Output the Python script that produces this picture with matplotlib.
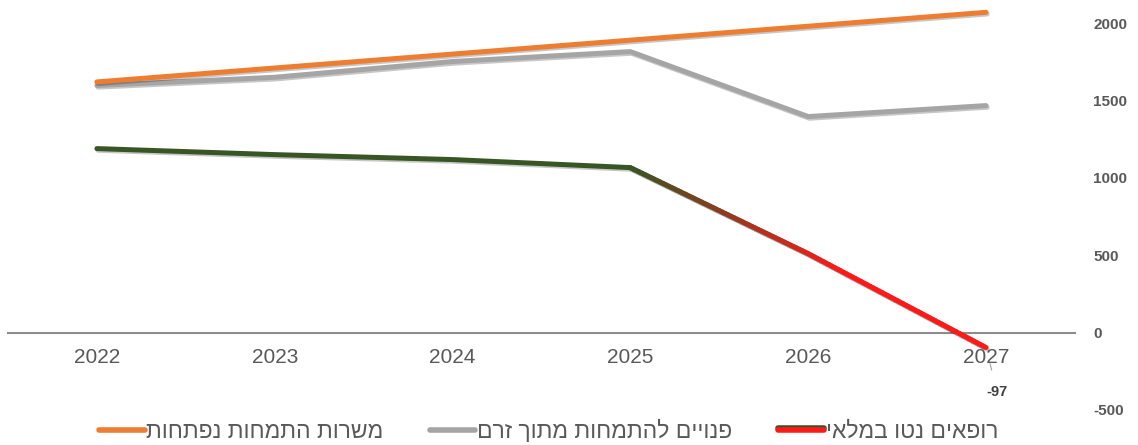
import numpy as np
import matplotlib.pyplot as plt
import matplotlib.patheffects as pe
from matplotlib.collections import LineCollection
from matplotlib.colors import to_rgb
from matplotlib.lines import Line2D

plt.rcParams['font.family'] = ['Liberation Sans', 'DejaVu Sans']
plt.rcParams['axes.unicode_minus'] = False

years = ['2022', '2023', '2024', '2025', '2026', '2027']
slots_opened = [1620, 1710, 1800, 1890, 1980, 2070]
free_slots = [1597, 1650, 1752, 1816, 1396, 1467]
net_doctors = [1189, 1150, 1118, 1066, 510, -97]

name_opened = 'משרות התמחות נפתחות'
name_free = 'פנויים להתמחות מתוך זרם'
name_net = 'רופאים נטו במלאי'

orange = '#ED7D31'
gray = '#A5A5A5'
green = '#375623'
red = '#FF1A1A'
text_col = '#595959'


def rtl(s):
    # matplotlib has no bidi support, flip Hebrew for display
    return s[::-1]


shadow = [pe.SimpleLineShadow(offset=(0.8, -1.2), alpha=0.22, shadow_color='k'), pe.Normal()]

fig = plt.figure(figsize=(11.38, 4.45), dpi=100)
ax = fig.add_axes([0.007, 0.079, 0.9376, 0.869])

for s in ['top', 'left', 'right']:
    ax.spines[s].set_visible(False)
ax.spines['bottom'].set_position(('data', 0))
ax.spines['bottom'].set_color('#8C8C8C')
ax.spines['bottom'].set_linewidth(1.5)
ax.spines['bottom'].set_zorder(1)

x = np.arange(len(years))

ax.plot(x, free_slots, color=gray, lw=3.6, solid_capstyle='round', path_effects=shadow,
        zorder=3, clip_on=False)
ax.plot(x, slots_opened, color=orange, lw=3.6, solid_capstyle='round', path_effects=shadow,
        zorder=4, clip_on=False)

# net doctors: green up to 2025, then fades to red
ax.plot(x[:4], net_doctors[:4], color=green, lw=3.6, solid_capstyle='round', path_effects=shadow,
        zorder=3, clip_on=False)
n = 120
t = np.linspace(0, 1, n + 1)
gx = np.interp(3 + 2 * t, x, x)
gy = np.interp(3 + 2 * t, x, net_doctors)
pts = np.column_stack([gx, gy]).reshape(-1, 1, 2)
segs = np.concatenate([pts[:-1], pts[1:]], axis=1)
frac = np.clip(t[:-1] / 0.6, 0, 1)
c0, c1 = np.array(to_rgb(green)), np.array(to_rgb(red))
cols = c0 + (c1 - c0) * frac[:, None]
lc = LineCollection(segs, colors=cols, linewidths=3.6, capstyle='round', zorder=3,
                    path_effects=shadow, clip_on=False)
ax.add_collection(lc)

ax.annotate(str(net_doctors[-1]), xy=(x[-1], net_doctors[-1]), xytext=(8, -32),
            textcoords='offset points', ha='center', va='center', fontsize=10.5,
            fontweight='bold', color='#404040',
            arrowprops=dict(arrowstyle='-', color='#A0A0A0', lw=0.8, shrinkA=9, shrinkB=12))

ax.set_xlim(-0.5, len(years) - 0.5)
ax.set_ylim(-500, 2000)
ax.set_xticks(x)
ax.set_xticklabels(years, fontsize=15, color=text_col)
ax.set_yticks([-500, 0, 500, 1000, 1500, 2000])
ax.yaxis.tick_right()
ax.tick_params(axis='y', length=0, pad=13, labelsize=11)
for lab in ax.get_yticklabels():
    lab.set_fontweight('bold')
    lab.set_color(text_col)
    lab.set_horizontalalignment('left')
ax.tick_params(axis='x', length=0, pad=11)

handles = [
    Line2D([], [], color=orange, lw=4, solid_capstyle='round'),
    Line2D([], [], color=gray, lw=4, solid_capstyle='round'),
    Line2D([], [], color=red, lw=4, solid_capstyle='round',
           path_effects=[pe.Stroke(linewidth=4, foreground=green, offset=(0, 1.3)), pe.Normal()]),
]
labels = [rtl(name_opened), rtl(name_free), rtl(name_net)]
leg = fig.legend(handles, labels, loc='center', bbox_to_anchor=(0.482, 0.03), ncol=3,
                 frameon=False, fontsize=16.5, handlelength=2.0, handletextpad=0.08,
                 columnspacing=2.0)
for tx in leg.get_texts():
    tx.set_color(text_col)

fig.savefig('out.png', dpi=100)
